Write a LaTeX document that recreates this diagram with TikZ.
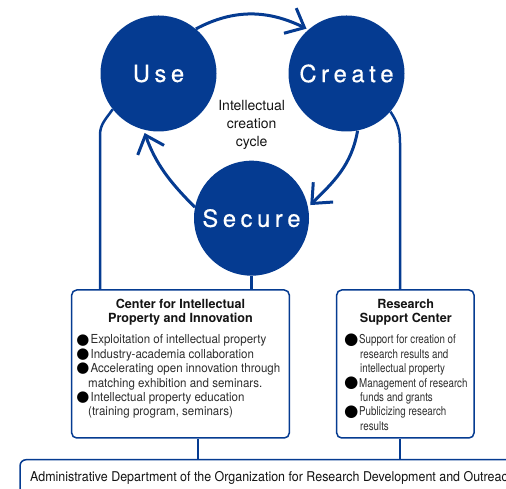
\documentclass[tikz,border=0pt]{standalone}
\usepackage{fontspec}
\setmainfont{TeX Gyre Heros}
\newfontfamily\symf{DejaVu Sans}
\newfontfamily\condC[FakeStretch=0.93]{TeX Gyre Heros}
\newfontfamily\condR[FakeStretch=0.80]{TeX Gyre Heros}
\newfontfamily\condA[FakeStretch=0.922]{TeX Gyre Heros}
\newfontfamily\circf[FakeBold=0.6]{TeX Gyre Heros}
\usetikzlibrary{arrows.meta}
\definecolor{navy}{RGB}{5,59,145}
\definecolor{txtdark}{RGB}{20,20,20}
\definecolor{txtgray}{RGB}{45,45,45}
\newcommand{\lsk}{\kern4.6pt}
\newcommand{\blc}{\makebox[12.4pt][l]{\hspace{-1.8pt}\smash{\raisebox{-0.3pt}{\color{black}\symf\fontsize{15}{15}\selectfont ●}}}}
\newcommand{\blr}{\makebox[13pt][l]{\hspace{-2pt}\smash{\raisebox{-0.3pt}{\color{black}\symf\fontsize{16.5}{16.5}\selectfont ●}}}}
\begin{document}
\begin{tikzpicture}[x=1pt,y=1pt,
  circ/.style={circle, fill=navy, inner sep=0pt, text=white,
    font=\circf\fontsize{23.7}{28}\selectfont},
  cyc/.style={draw=navy, line width=3pt, -{Straight Barb[length=16pt,width=28pt]}},
  conn/.style={draw=navy, line width=2.5pt},
  box/.style={draw=navy, line width=1.5pt, fill=white, rounded corners=5pt, inner sep=0pt},
  lbl/.style={inner sep=0pt, text=txtdark},
]
\useasboundingbox (0,0) rectangle (506,489);
\clip (0,0) rectangle (506,489);

% circles
\node[circ, minimum size=116pt] (use) at (158.5,415.5) {U\lsk s\lsk e};
\node[circ, minimum size=116pt] (create) at (346.5,415.5) {C\lsk r\lsk e\lsk a\lsk t\lsk e};
\node[circ, minimum size=115pt] (secure) at (251.5,270.8) {S\lsk e\lsk c\lsk u\lsk r\lsk e};

% cycle arrows
\draw[cyc, shorten >=2pt] (use.50) to[out=28,in=154] (create.131);
\draw[cyc, shorten >=3pt] (create.-79) to[out=260,in=45] (secure.11);
\draw[cyc, shorten >=3.5pt] (secure.169) to[out=135,in=-70] (use.-105);

\node[lbl, anchor=base, font=\fontsize{14}{18}\selectfont] (ict) at (251.7,378)
  {\parbox[t]{100pt}{\centering Intellectual\\creation\\cycle}};

% connector helper coordinates
\coordinate (lc) at (100,354);
\coordinate (rc) at (400,346);
\coordinate (bc) at (198,0);

% boxes
\node[box, minimum width=217.6pt, minimum height=148pt] (cip) at (180.5,125) {};
\node[box, minimum width=137.3pt, minimum height=148pt] (rsc) at (405.35,125) {};
\node[box, anchor=north west, minimum width=540pt, minimum height=80pt, rounded corners=6pt] (adm) at (19.3,30) {};

% connectors
\draw[conn] (use.218) to[out=236,in=90] (lc) -- (lc |- cip.north);
\draw[conn] (create.-41) to[out=-56,in=90] (rc) -- (rc |- rsc.north);
\draw[conn] (secure.south) -- (secure.south |- cip.north);
\draw[conn] (bc |- cip.south) -- (bc |- adm.north);
\draw[conn] (rc |- rsc.south) -- (rc |- adm.north);

% box texts
\node[lbl, anchor=base, font=\bfseries\fontsize{12.6}{13.7}\selectfont] (cipt) at (180.5,180)
  {\parbox[t]{200pt}{\centering Center for Intellectual\\Property and Innovation}};
\node[lbl, anchor=base, font=\bfseries\fontsize{12.6}{13.7}\selectfont] (rsct) at (405.8,180)
  {\parbox[t]{130pt}{\centering Research\\Support Center}};

\node[lbl, anchor=base west, text=txtgray, font=\condC\fontsize{12.4}{14.35}\selectfont] (cipl) at (78,145)
  {\parbox[t]{240pt}{\raggedright
  \blc Exploitation of intellectual property\\
  \blc Industry-academia collaboration\\
  \blc Accelerating open innovation through\\
  \hspace*{10pt}matching exhibition and seminars.\\
  \blc Intellectual property education\\
  \hspace*{10pt}(training program, seminars)}};

\node[lbl, anchor=base west, text=txtgray, font=\condR\fontsize{12.2}{14.4}\selectfont] (rscl) at (346,145)
  {\parbox[t]{150pt}{\raggedright
  \blr Support for creation of\\
  \hspace*{14pt}research results and\\
  \hspace*{14pt}intellectual property\\
  \blr Management of research\\
  \hspace*{14pt}funds and grants\\
  \blr Publicizing research\\
  \hspace*{14pt}results}};

\node[lbl, anchor=base west, font=\condA\fontsize{13.5}{16}\selectfont] (admt) at (30,7)
  {Administrative Department of the Organization for Research Development and Outreach};
\end{tikzpicture}
\end{document}
